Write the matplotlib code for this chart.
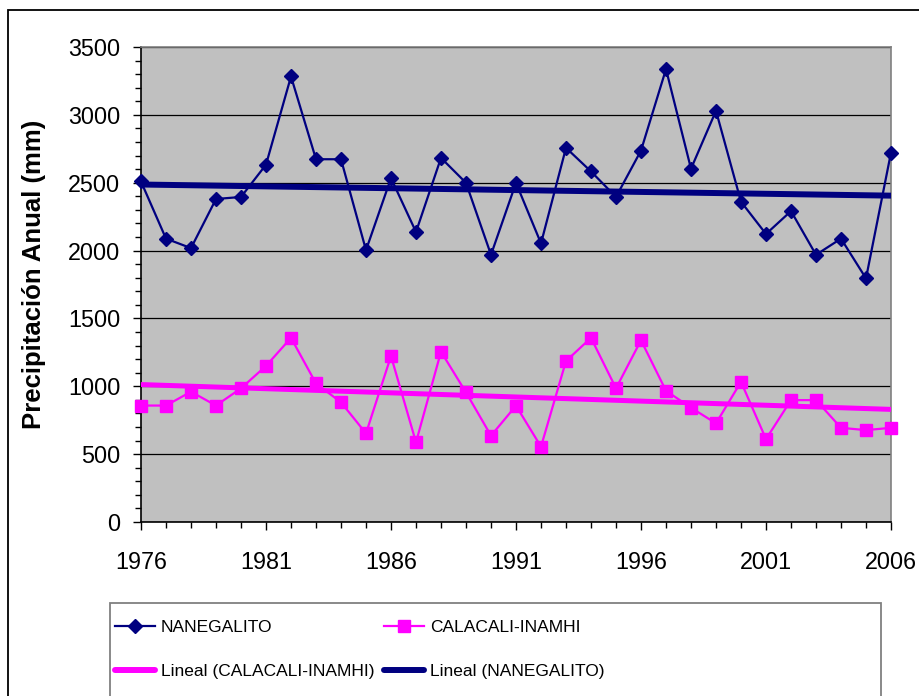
import numpy as np
import matplotlib
matplotlib.use('Agg')
import matplotlib.pyplot as plt
from matplotlib.lines import Line2D
from matplotlib.patches import Rectangle
from matplotlib.ticker import MultipleLocator, FixedLocator

# Data
years = list(range(1976, 2007))
nanegalito = [2509, 2088, 2018, 2380, 2395, 2633, 3283, 2673, 2673, 2003,
              2534, 2137, 2683, 2499, 1969, 2499, 2053, 2757, 2583, 2395,
              2737, 3337, 2603, 3030, 2360, 2122, 2291, 1969, 2088, 1795,
              2722]
calacali = [858, 858, 960, 858, 985, 1150, 1357, 1021, 882, 653,
            1223, 587, 1255, 955, 636, 857, 555, 1186, 1357, 985,
            1339, 967, 842, 727, 1033, 611, 898, 898, 694, 677,
            694]
series_names = ['NANEGALITO', 'CALACALI-INAMHI']
year_ticks = list(range(1976, 2007, 5))

plt.rcParams['font.family'] = ['Liberation Sans', 'DejaVu Sans']

navy = '#000080'
magenta = '#FF00FF'

fig = plt.figure(figsize=(9.2, 6.96), dpi=100)
ax = fig.add_axes([141/920, 1 - 522/696, 750/920, 475/696])
ax.set_facecolor('#C0C0C0')

x = np.array(years)
ax.plot(x, nanegalito, color=navy, lw=1.6, marker='D', ms=7,
        mfc=navy, mec=navy, clip_on=False, zorder=3)
ax.plot(x, calacali, color=magenta, lw=1.6, marker='s', ms=8.5,
        mfc=magenta, mec=magenta, clip_on=False, zorder=3)

# linear trends (like Excel "Lineal")
n_fit = np.polyfit(x, nanegalito, 1)
c_fit = np.polyfit(x, calacali, 1)
xs = np.array([years[0], years[-1]])
ax.plot(xs, np.polyval(n_fit, xs), color=navy, lw=4.3,
        solid_capstyle='butt', zorder=4)
ax.plot(xs, np.polyval(c_fit, xs), color=magenta, lw=3.6,
        solid_capstyle='butt', zorder=4)

ax.set_xlim(1976, 2006)
ax.set_ylim(0, 3500)
ax.xaxis.set_major_locator(FixedLocator(year_ticks))
ax.xaxis.set_minor_locator(MultipleLocator(1))
ax.yaxis.set_major_locator(MultipleLocator(500))
ax.yaxis.set_minor_locator(MultipleLocator(100))
ax.grid(axis='y', which='major', color='black', lw=0.9, zorder=1)
ax.set_axisbelow(True)

ax.tick_params(axis='both', which='major', direction='out', length=6,
               width=1, labelsize=16.8, colors='black')
ax.tick_params(axis='both', which='minor', direction='out', length=4,
               width=1)
ax.tick_params(axis='x', which='major', pad=15)
ax.tick_params(axis='y', which='major', pad=9)

for side in ('left', 'bottom'):
    ax.spines[side].set_color('black')
    ax.spines[side].set_linewidth(1.2)
for side in ('top', 'right'):
    ax.spines[side].set_color('#808080')
    ax.spines[side].set_linewidth(1.2)

ax.set_ylabel('Precipitación Anual (mm)', fontsize=18.5, fontweight='bold')
ax.yaxis.set_label_coords(-0.126, 0.522)

# outer chart frame (runs off the right and bottom of the image)
fig.patches.append(Rectangle((8/920, -0.05), 1.0, 1 - 10/696 + 0.05,
                             transform=fig.transFigure, fill=False,
                             edgecolor='black', lw=1.3, zorder=0))
# legend frame
fig.patches.append(Rectangle((110/920, -0.05), 771/920, 1 - 603/696 + 0.05,
                             transform=fig.transFigure, fill=False,
                             edgecolor='#808080', lw=1.3, zorder=0))

h_n = Line2D([], [], color=navy, lw=1.6, marker='D', ms=7)
h_c = Line2D([], [], color=magenta, lw=1.6, marker='s', ms=8.5)
h_ct = Line2D([], [], color=magenta, lw=4.3, solid_capstyle='round')
h_nt = Line2D([], [], color=navy, lw=4.3, solid_capstyle='round')

leg_kw = dict(frameon=False, prop=dict(family='Liberation Sans', size=12.5),
              handlelength=2.3, handletextpad=0.35, labelspacing=1.65,
              borderpad=0, borderaxespad=0, loc='upper left')
fig.legend([h_n, h_ct], [series_names[0], 'Lineal (' + series_names[1] + ')'],
           bbox_to_anchor=(115/920, 1 - 620/696), **leg_kw)
fig.legend([h_c, h_nt], [series_names[1], 'Lineal (' + series_names[0] + ')'],
           bbox_to_anchor=(384/920, 1 - 620/696), **leg_kw)

fig.savefig('out.png', dpi=100)
